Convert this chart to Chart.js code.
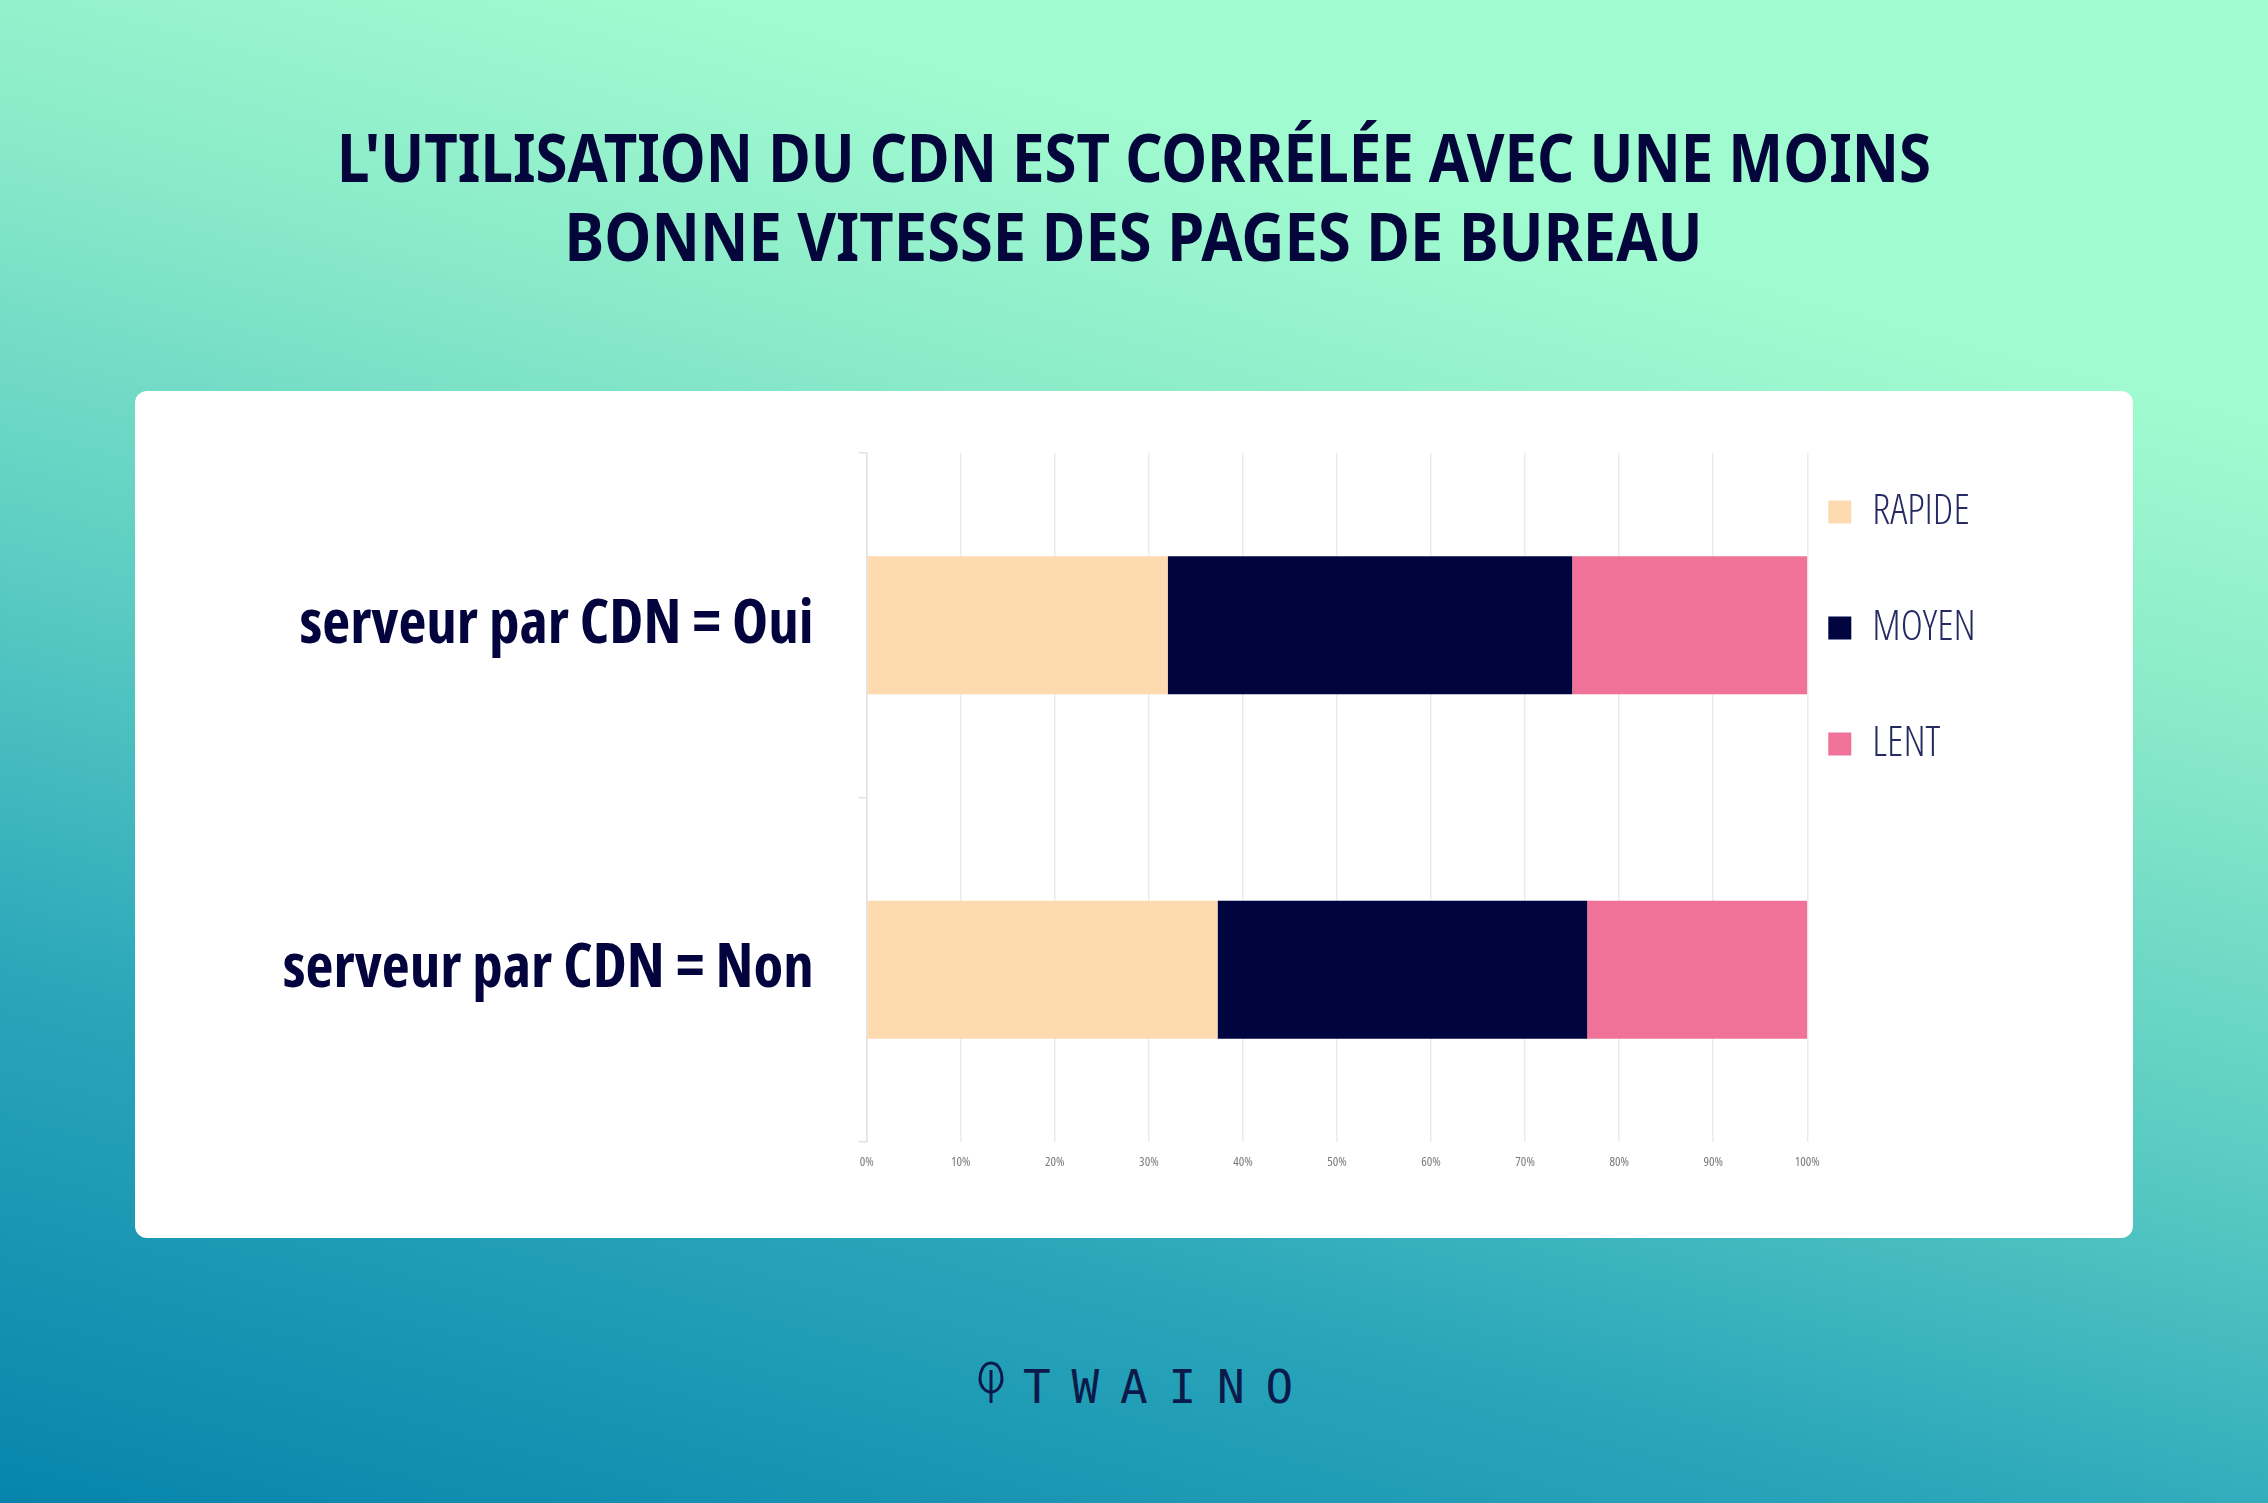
<!DOCTYPE html>
<html>
<head>
<meta charset="utf-8">
<script src="https://cdn.jsdelivr.net/npm/chart.js@4.4.0/dist/chart.umd.min.js"></script>
<style>
  html, body { margin: 0; padding: 0; }
  body {
    width: 2268px; height: 1503px; overflow: hidden; position: relative;
    background: linear-gradient(15deg, #0784ab 0%, #2aa6ba 25%, #5ccdc3 45%, #8aeac9 65%, #a1fbd0 80%);
    font-family: 'Noto Sans', sans-serif;
  }
  .tline {
    position: absolute; left: 0; width: 2268px; text-align: center;
    color: #04053a; font-weight: 700; font-size: 66px; line-height: 79px;
  }
  .tline span { display: inline-block; white-space: nowrap; }
  #card {
    position: absolute; left: 135px; top: 391px; width: 1998px; height: 847px;
    background: #fff; border-radius: 12px;
  }
  #chartBox { position: absolute; left: 0; top: 0; width: 1998px; height: 847px; }
  #logoIcon { position: absolute; left: 978px; top: 1361px; }
  #logoText {
    position: absolute; left: 1023px; top: 1364px; white-space: nowrap;
    font-family: 'DejaVu Sans Mono', monospace; font-size: 46px; line-height: 46px;
    letter-spacing: 20.8px; color: #0b1a4a;
  }
</style>
</head>
<body>
<div class="tline" id="t1" style="top:117px"><span>L'UTILISATION DU CDN EST CORRÉLÉE AVEC UNE MOINS</span></div>
<div class="tline" id="t2" style="top:196px"><span>BONNE VITESSE DES PAGES DE BUREAU</span></div>

<div id="card">
  <div id="chartBox"><canvas id="barChart" width="1998" height="847"></canvas></div>
</div>

<svg id="logoIcon" width="28" height="44" viewBox="0 0 28 44">
  <path d="M13 2 C5 2 2 11 2 18 C2 25 7 31 13 31 C19 31 24 25 24 18 C24 11 21 2 13 2 Z" fill="none" stroke="#0b1a4a" stroke-width="3"/>
  <line x1="13" y1="9" x2="13" y2="42" stroke="#0b1a4a" stroke-width="3"/>
</svg>
<div id="logoText">TWAINO</div>

<script>
const categories = ['serveur par CDN = Oui', 'serveur par CDN = Non'];
const seriesNames = ['RAPIDE', 'MOYEN', 'LENT'];
const rapide = [32, 37.3];
const moyen = [43, 39.3];
const lent = [25, 23.4];
const seriesColors = ['#fddab0', '#000540', '#f07298'];
const tickLabels = ['0%', '10%', '20%', '30%', '40%', '50%', '60%', '70%', '80%', '90%', '100%'];

// fit the two title lines to the reference widths
const s1 = document.querySelector('#t1 span');
const s2 = document.querySelector('#t2 span');
s1.style.transform = 'scaleX(' + (1594 / s1.getBoundingClientRect().width) + ')';
s2.style.transform = 'scaleX(' + (1138 / s2.getBoundingClientRect().width) + ')';

const areaLeft = 731.7, areaRight = 1672.3;

const chart = new Chart(document.getElementById('barChart'), {
    type: 'bar',
    data: {
        labels: categories,
        datasets: [
            { label: seriesNames[0], data: rapide, backgroundColor: seriesColors[0] },
            { label: seriesNames[1], data: moyen, backgroundColor: seriesColors[1] },
            { label: seriesNames[2], data: lent, backgroundColor: seriesColors[2] },
        ]
    },
    options: {
        indexAxis: 'y',
        responsive: false,
        animation: false,
        datasets: {
            bar: { barPercentage: 0.4, categoryPercentage: 1, borderWidth: 0 }
        },
        layout: { padding: { left: 0, top: 62, right: 0, bottom: 56 } },
        scales: {
            x: {
                stacked: true,
                min: 0,
                max: 100,
                border: { display: false },
                grid: { color: '#ebebeb', lineWidth: 1.5, drawTicks: false },
                ticks: {
                    stepSize: 10,
                    padding: 12,
                    color: '#7a7a7a',
                    font: { family: '"Open Sans"', weight: '400 condensed', size: 13 },
                    callback: (v, i) => tickLabels[i]
                },
                afterFit: (s) => { s.height = 40; }
            },
            y: {
                stacked: true,
                border: { display: true, color: '#e2e2e2', width: 1.5 },
                grid: { drawOnChartArea: false, drawTicks: true, tickLength: 8, color: '#e2e2e2', lineWidth: 1.5 },
                ticks: {
                    padding: 45,
                    color: '#03043d',
                    font: { family: '"Open Sans"', weight: 'bold condensed', size: 61, lineHeight: 0.2 }
                },
                afterFit: (s) => { s.width = areaLeft; }
            }
        },
        plugins: {
            tooltip: { enabled: false },
            legend: {
                position: 'right',
                align: 'start',
                title: { display: true, text: '', font: { size: 2, lineHeight: 1 }, padding: { top: 15, bottom: 0 } },
                labels: {
                    boxWidth: 23,
                    boxHeight: 23,
                    padding: 21,
                    color: '#262a63',
                    font: { family: '"Open Sans"', weight: '300 condensed', size: 42, lineHeight: 95 / 42 },
                    generateLabels: (ch) => ch.data.datasets.map((d, i) => ({
                        text: [d.label],
                        fillStyle: d.backgroundColor,
                        strokeStyle: d.backgroundColor,
                        fontColor: '#262a63',
                        lineWidth: 0,
                        hidden: false,
                        datasetIndex: i
                    }))
                }
            }
        }
    }
});

// nudge right padding so the plot ends where the reference's does
for (let i = 0; i < 2; i++) {
    chart.options.layout.padding.right += chart.chartArea.right - areaRight;
    chart.update('none');
}
</script>
</body>
</html>
